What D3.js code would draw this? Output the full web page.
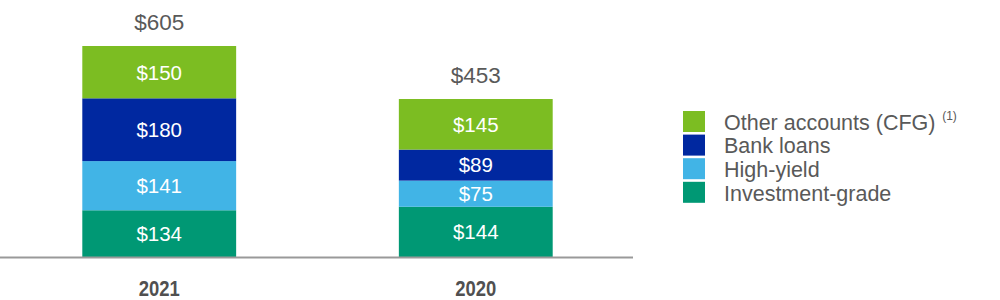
<!DOCTYPE html>
<html><head><meta charset="utf-8">
<script src="https://cdn.jsdelivr.net/npm/d3@7"></script>
<style>body{margin:0;background:#fff}svg{display:block;font-family:"Liberation Sans",Arial,sans-serif}</style>
</head><body><svg id="c" width="1000" height="300"></svg>
<script>
const years = ["2021", "2020"];
const seriesNames = ["Investment-grade", "High-yield", "Bank loans", "Other accounts (CFG)"];
const investmentGrade = [134, 144];
const highYield = [141, 75];
const bankLoans = [180, 89];
const otherAccounts = [150, 145];
const totals = [605, 453];
const colors = ["#009874", "#41B4E6", "#0028A0", "#7CBD22"];

const svg = d3.select("#c");
const x = d3.scaleBand().domain(years).range([0, 635]).paddingInner(0.514).paddingOuter(0.26);
const y = d3.scaleLinear().domain([0, 605]).range([257, 46]);

const rows = years.map((yr, i) => ({year: yr, "Investment-grade": investmentGrade[i], "High-yield": highYield[i], "Bank loans": bankLoans[i], "Other accounts (CFG)": otherAccounts[i]}));
const stacked = d3.stack().keys(seriesNames)(rows);

const g = svg.append("g");
stacked.forEach((s, si) => {
  s.forEach((d, i) => {
    g.append("rect").attr("x", x(years[i])).attr("width", x.bandwidth())
      .attr("y", y(d[1])).attr("height", y(d[0]) - y(d[1])).attr("fill", colors[si]);
    g.append("text").attr("x", x(years[i]) + x.bandwidth() / 2).attr("y", (y(d[0]) + y(d[1])) / 2)
      .attr("dy", "0.36em").attr("text-anchor", "middle").attr("fill", "#fff").attr("font-size", 20.5)
      .text("$" + (d[1] - d[0]));
  });
});
years.forEach((yr, i) => {
  g.append("text").attr("x", x(yr) + x.bandwidth() / 2).attr("y", y(totals[i]) - 16)
    .attr("text-anchor", "middle").attr("fill", "#595959").attr("font-size", 22.5).text("$" + totals[i]);
});

const axis = svg.append("g").attr("transform", "translate(0,257)")
  .call(d3.axisBottom(x).tickSize(0).tickPadding(0));
axis.select(".domain").attr("stroke", "#999").attr("stroke-width", 2).attr("d", "M0,0.5H633");
axis.selectAll("text").attr("font-size", 22).attr("font-weight", "bold").attr("fill", "#505050")
  .attr("textLength", 41).attr("lengthAdjust", "spacingAndGlyphs").attr("y", 38.5).attr("dy", null);

const legendOrder = [3, 2, 1, 0];
const lg = svg.append("g").attr("transform", "translate(683,111)");
legendOrder.forEach((si, k) => {
  const row = lg.append("g").attr("transform", `translate(0,${k * 23.6})`);
  row.append("rect").attr("width", 22).attr("height", 21).attr("fill", colors[si]);
  const t = row.append("text").attr("x", 41).attr("y", 11).attr("dy", "0.36em")
    .attr("font-size", 21.5).attr("fill", "#595959").text(seriesNames[si]);
  if (si === 3) {
    t.append("tspan").attr("font-size", 12).attr("dy", "-0.8em").text(" \u00a0(1)");
  }
});
</script></body></html>
